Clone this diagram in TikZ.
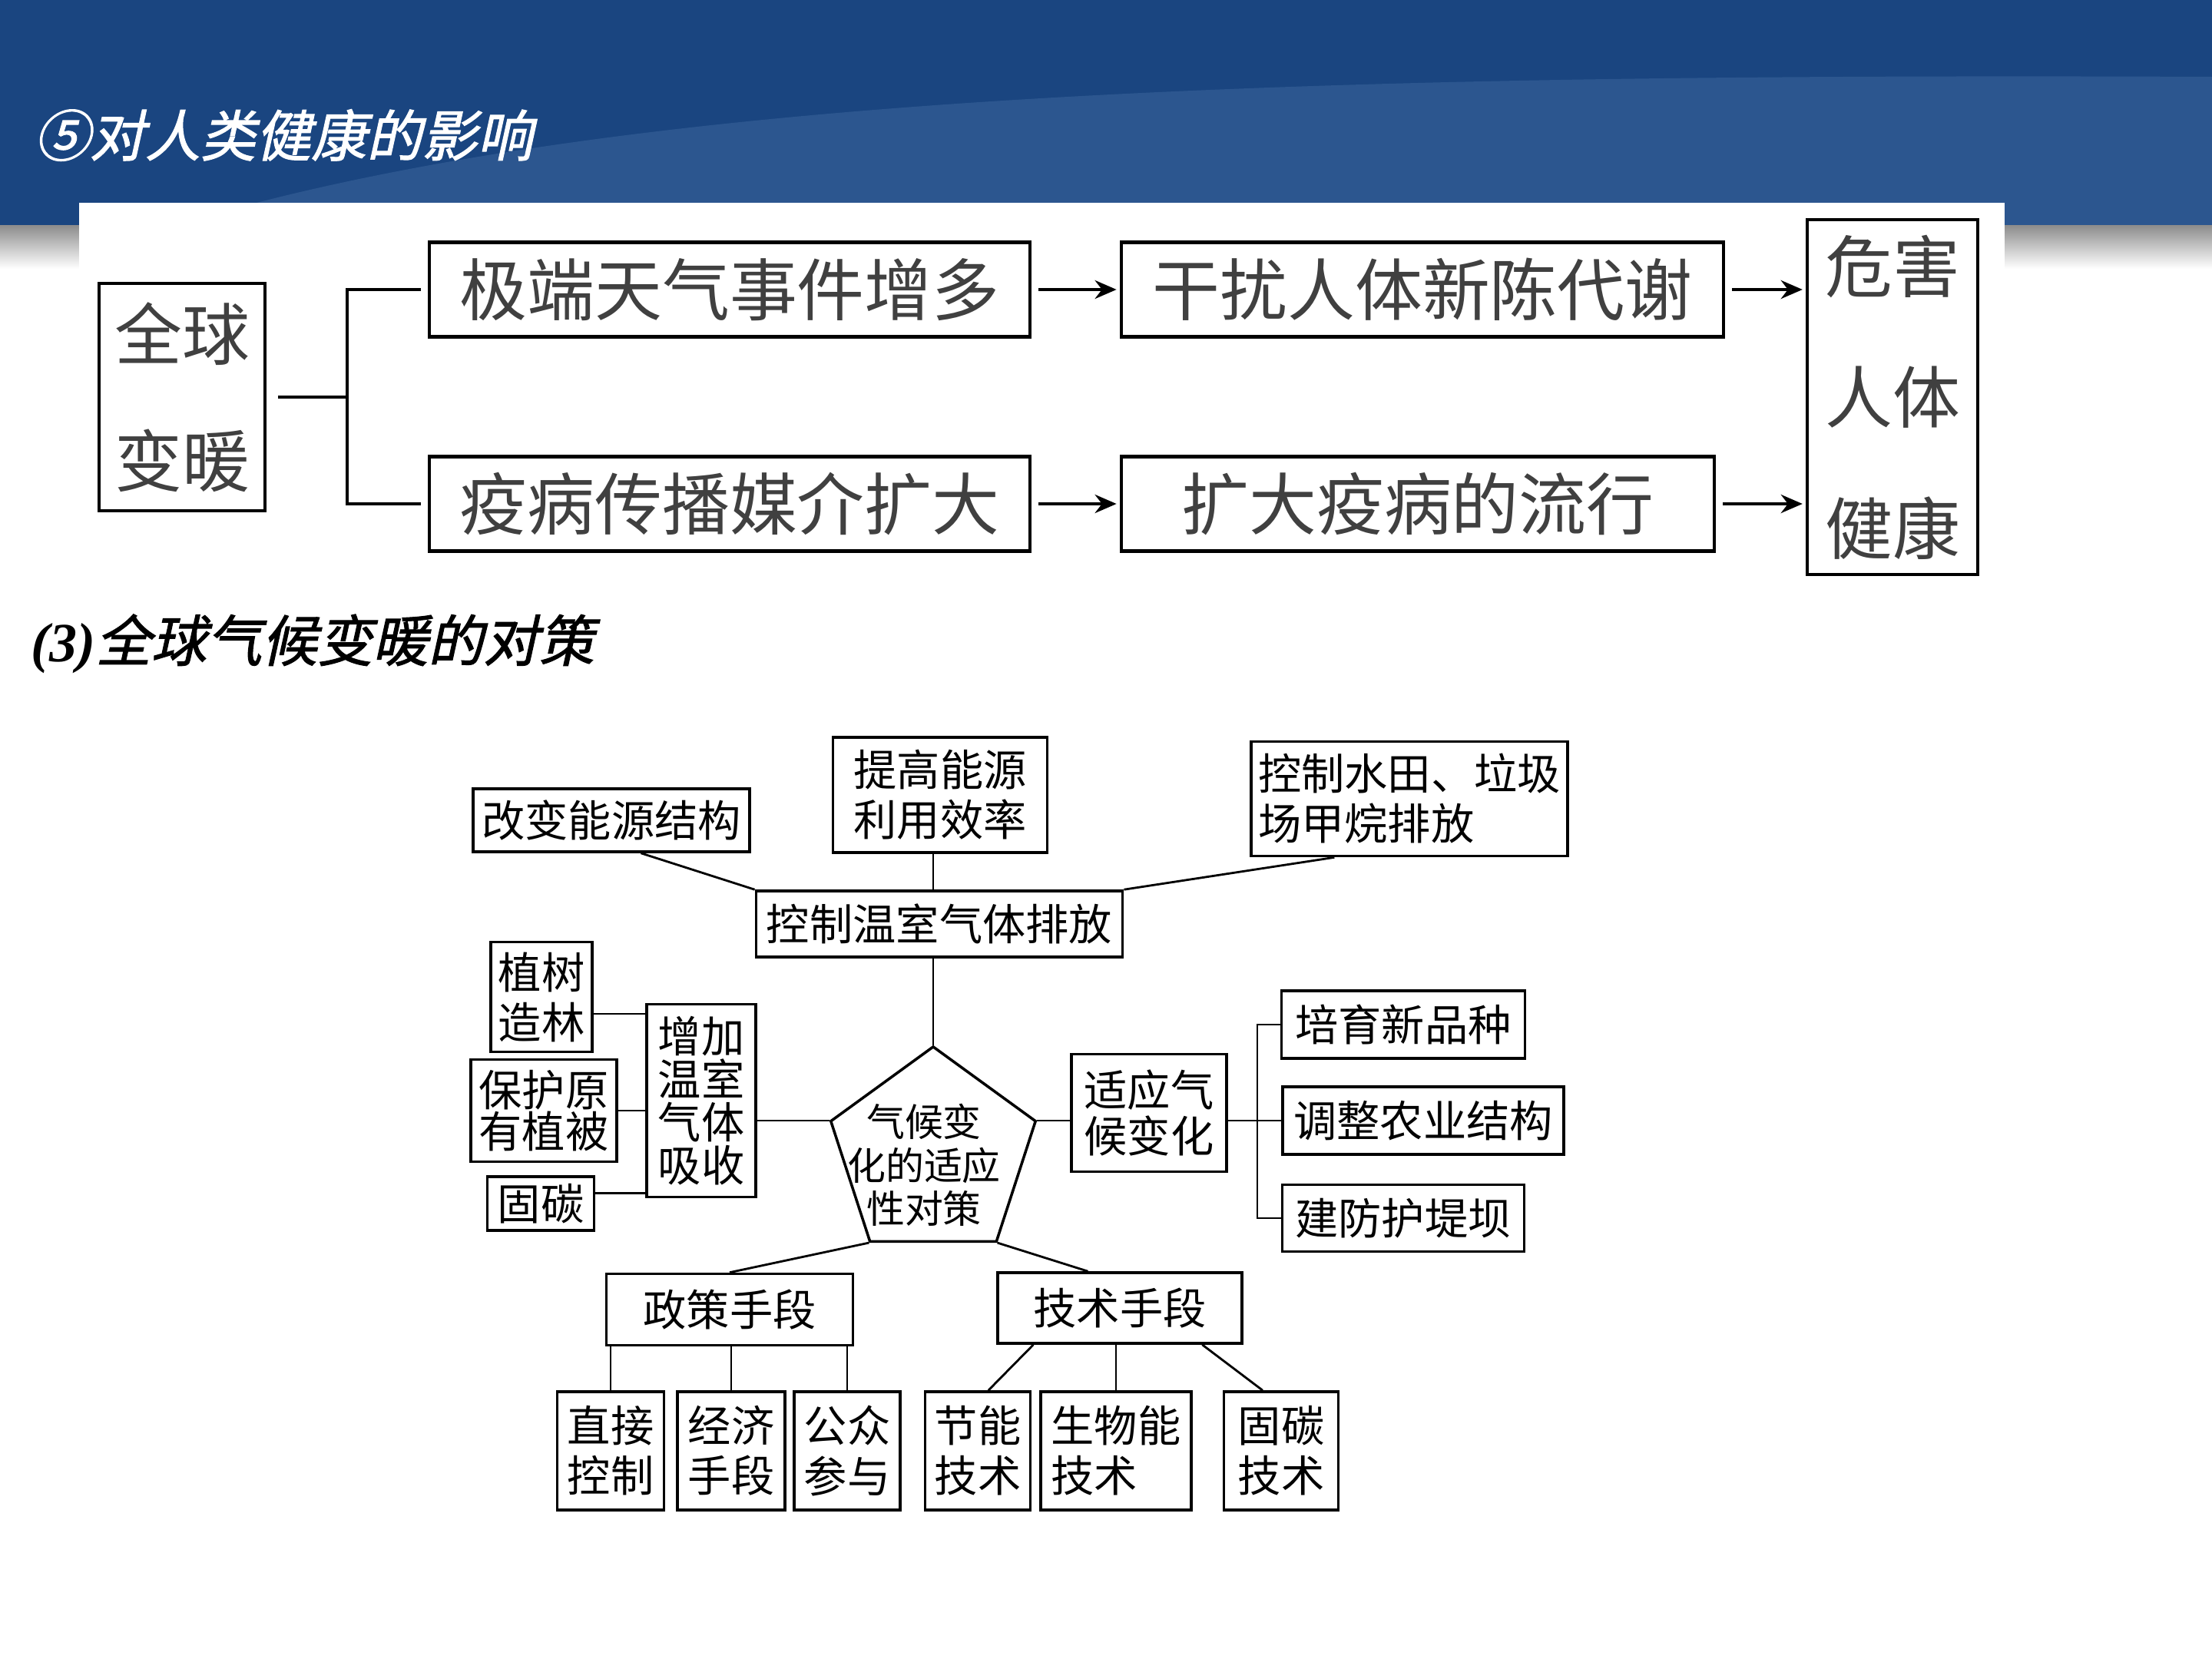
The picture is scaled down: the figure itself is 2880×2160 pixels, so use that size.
\documentclass[tikz,border=0pt]{standalone}
\usepackage{fontspec}
\setmainfont{Liberation Serif}
\newfontfamily\cjk{Noto Sans CJK SC}
\newfontfamily\cjkhead[FakeSlant=0.22,FakeBold=1.5]{Noto Sans CJK SC}
\usetikzlibrary{arrows.meta, shapes.geometric}
\definecolor{bandBlue}{RGB}{26,69,128}
\definecolor{bandGlow}{RGB}{62,104,158}
\tikzset{
	topbox/.style={draw, line width=1.2pt, inner sep=0pt, align=center, text=black!75, font=\cjk\fontsize{25}{47}\selectfont},
	topline/.style={line width=1.2pt},
	toparr/.style={-{Stealth[length=0.28cm, width=0.24cm]}, line width=1.2pt, shorten <=0.09cm, shorten >=0.04cm},
	lowbox/.style={draw, line width=1pt, inner sep=0pt, align=center, font=\cjk\fontsize{16}{18.5}\selectfont},
	lowline/.style={line width=0.8pt},
	thinline/.style={line width=0.5pt},
	headtext/.style={font=\cjkhead\fontsize{20.5}{24}\selectfont, anchor=west, inner sep=0pt},
}

\begin{document}
\begin{tikzpicture}[
		x=0.01cm, y=-0.01cm,
		leafbox/.style={lowbox, minimum height=1.54cm},
		pentbox/.style={draw, line width=1pt, regular polygon, regular polygon sides=5, minimum size=2.8cm, inner sep=0pt}
	]
		\useasboundingbox (0,0) rectangle (2880,2160);

		% Slide background
		\fill[white] (0,0) rectangle (2880,2160);
		\fill[bandBlue] (0,0) rectangle (2880,293);
		\fill[bandGlow, opacity=0.5] (230,293) .. controls (800,120) and (1700,95) .. (2880,100) -- (2880,293) -- cycle;
		\shade[top color=black!45, bottom color=white] (0,293) rectangle (2880,350);
		\fill[white] (103,264) rectangle (2610,2160);

		% Headings
		\node[headtext, text=white] (head5) at (44,176) {⑤对人类健康的影响};
		\node[headtext] (head3) at (40,838) {{\rmfamily\bfseries\itshape (3)}全球气候变暖的对策};

		% Health effects
		\node[topbox, minimum width=2.16cm, minimum height=2.96cm] (gw) at (237,517) {全球\\变暖};
		\node[topbox, minimum width=7.81cm, minimum height=1.23cm] (jd) at (950,377) {极端天气事件增多};
		\node[topbox, minimum width=7.81cm, minimum height=1.23cm] (yb) at (950,656) {疫病传播媒介扩大};
		\node[topbox, minimum width=7.84cm, minimum height=1.23cm] (gr) at (1852,377) {干扰人体新陈代谢};
		\node[topbox, minimum width=7.72cm, minimum height=1.23cm] (kd) at (1846,656) {扩大疫病的流行};
		\node[topbox, minimum width=2.22cm, minimum height=4.61cm, font=\cjk\fontsize{25}{48.5}\selectfont] (wh) at (2464,517) {危害\\人体\\健康};

		\coordinate (fork) at (452,517);
		\draw[topline, shorten <=0.15cm] (gw.east) -- (fork);
		\draw[topline, shorten <=0.09cm, shorten >=0.09cm] (jd.west) -| (fork) |- (yb.west);
		\draw[toparr] (jd) -- (gr);
		\draw[toparr] (gr.east) -- (gr.east -| wh.west);
		\draw[toparr] (yb) -- (kd);
		\draw[toparr] (kd.east) -- (kd.east -| wh.west);

		% Emission control
		\node[lowbox, minimum width=3.60cm, minimum height=0.82cm] (gbn) at (796,1068) {改变能源结构};
		\node[lowbox, minimum width=2.79cm, minimum height=1.50cm] (tgn) at (1224,1035) {提高能源\\利用效率};
		\node[lowbox, minimum width=4.12cm, minimum height=1.49cm, align=left] (ksl) at (1835,1040) {控制水田、垃圾\\场甲烷排放};
		\node[lowbox, minimum width=4.77cm, minimum height=0.86cm] (kzw) at (1223,1203) {控制温室气体排放};

		% Centre
		\node[pentbox] (pent) at (1215,1503) {};
		\node[font=\cjk\fontsize{14.2}{16}\selectfont, align=center, inner sep=0pt] (penttxt) at (1203,1517) {气候变\\化的适应\\性对策};

		% Sinks
		\node[lowbox, minimum width=1.42cm, minimum height=2.51cm, font=\cjk\fontsize{16}{16}\selectfont] (zjx) at (913,1433) {增加\\温室\\气体\\吸收};
		\node[lowbox, minimum width=1.32cm, minimum height=1.43cm] (zsz) at (705,1298) {植树\\造林};
		\node[lowbox, minimum width=1.90cm, minimum height=1.33cm, font=\cjk\fontsize{16}{15.5}\selectfont] (bhy) at (708,1446) {保护原\\有植被};
		\node[lowbox, minimum width=1.39cm, minimum height=0.70cm] (gt) at (704,1567) {固碳};

		% Adaptation
		\node[lowbox, minimum width=2.02cm, minimum height=1.53cm, font=\cjk\fontsize{16}{17}\selectfont] (sy) at (1496,1449) {适应气\\候变化};
		\node[lowbox, minimum width=3.17cm, minimum height=0.88cm] (pyx) at (1827,1334) {培育新品种};
		\node[lowbox, minimum width=3.66cm, minimum height=0.88cm] (tzn) at (1853,1459) {调整农业结构};
		\node[lowbox, minimum width=3.15cm, minimum height=0.87cm] (jfh) at (1827,1586) {建防护堤坝};

		% Means
		\node[lowbox, minimum width=3.21cm, minimum height=0.93cm] (zcs) at (950,1705) {政策手段};
		\node[lowbox, minimum width=3.18cm, minimum height=0.92cm] (jss) at (1458,1703) {技术手段};
		\node[leafbox, minimum width=1.39cm] (zjk) at (795,1889) {直接\\控制};
		\node[leafbox, minimum width=1.40cm] (jjs) at (952,1889) {经济\\手段};
		\node[leafbox, minimum width=1.38cm] (gzc) at (1103,1889) {公众\\参与};
		\node[leafbox, minimum width=1.37cm] (jnj) at (1273,1889) {节能\\技术};
		\node[leafbox, minimum width=1.96cm, align=left] (swn) at (1453,1889) {生物能\\技术};
		\node[leafbox, minimum width=1.49cm] (gtj) at (1668,1889) {固碳\\技术};

		% Links
		\draw[lowline] (gbn.-48) -- (kzw.north west);
		\draw[thinline] (tgn.south -| pent.corner 1) -- (kzw.north -| pent.corner 1);
		\draw[lowline] (ksl.218) -- (kzw.north east);
		\draw[thinline] (kzw.south -| pent.corner 1) -- (pent.corner 1);

		\draw[lowline] (zsz.-18) -- (zsz.-18 -| zjx.west);
		\draw[lowline] (bhy.east) -- (bhy.east -| zjx.west);
		\draw[lowline] (gt.11) -- (gt.11 -| zjx.west);
		\draw[lowline] (pent.corner 2) -- (pent.corner 2 -| zjx.east);

		\draw[lowline] (pent.corner 5) -- (pent.corner 5 -| sy.west);
		\coordinate (adfork) at (1637,1459);
		\draw[lowline] (sy.east |- pent.corner 5) -- (tzn.west |- pent.corner 5);
		\draw[lowline] (pyx.west) -| (adfork) |- (jfh.west);

		\draw[lowline] (pent.corner 3) -- (zcs.north);
		\draw[lowline] (pent.corner 4) -- (jss.131);
		\draw[lowline] (zjk.north) -- (zjk.north |- zcs.south);
		\draw[lowline] (jjs.north) -- (jjs.north |- zcs.south);
		\draw[lowline] (gzc.north) -- (gzc.north |- zcs.south);
		\draw[lowline] (jss.-157) -- (jnj.80);
		\draw[lowline] (swn.north) -- (swn.north |- jss.south);
		\draw[lowline] (jss.-24) -- (gtj.107);
	\end{tikzpicture}
\end{document}
